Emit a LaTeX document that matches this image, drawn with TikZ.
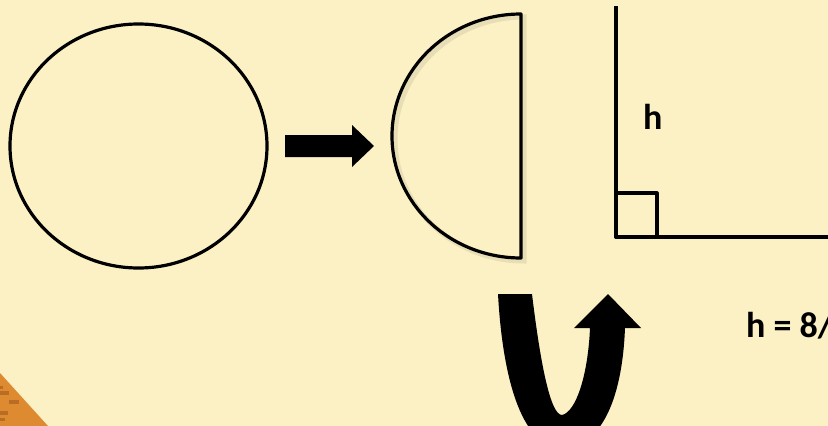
\documentclass[tikz,border=0pt]{standalone}
\usepackage{fontspec}
\setmainfont{Carlito}
\usepackage{tikz}
\usetikzlibrary{calc}
\definecolor{paper}{RGB}{252,241,197}
\definecolor{brick}{RGB}{222,138,48}
\definecolor{brickdark}{RGB}{184,108,36}

\begin{document}
\begin{tikzpicture}[x=1pt,y=-1pt,
  shape line/.style={line width=3.2pt, line join=round},
  big label/.style={font=\fontsize{36}{40}\selectfont\bfseries, inner sep=0pt, anchor=base west}]
% Page and background
\useasboundingbox (0,0) rectangle (828,426);
\clip (0,0) rectangle (828,426);
\fill[paper] (0,0) rectangle (828,426);

% Corner ornament
\fill[brick] (0,373) -- (48,426) -- (0,426) -- cycle;
\foreach \xa/\ya/\xb/\yb in {0/386/3/389, 0/391/9/395, 9/400/19/404, 0/411/8/415, 0/418/5/421}
  \fill[brickdark] (\xa,\ya) rectangle (\xb,\yb);

% Whole circle
\draw[shape line] (138.5,146) ellipse [x radius=128.5, y radius=122];

% Block arrow
\fill (285,135) -- (352,135) -- (352,125) -- (374,146) -- (352,167) -- (352,157) -- (285,157) -- cycle;

% Half circle (with soft shadow)
\draw[line width=5pt, black, opacity=0.08] (524,17) -- (524,261) arc[start angle=90, end angle=270, x radius=129, y radius=122] -- cycle;
\draw[shape line] (521,14) -- (521,258) arc[start angle=90, end angle=270, x radius=129, y radius=122] -- cycle;

% Right angle
\draw[shape line] (616,6) -- (616,237) -- (830,237);
\draw[shape line] (616,193) rectangle (657,237);
\node[big label] (hlabel) at (643,129) {h};

% Formula
\node[big label] (formula) at (746,337) {h = 8/};

% U-turn arrow
\fill (498,294) -- (532,294)
  .. controls (540,360) and (550,415) .. (562,415)
  .. controls (576,412) and (588,375) .. (590,328)
  -- (574,328) -- (608,294) -- (641,328) -- (625,328)
  .. controls (622,405) and (598,448) .. (562,448)
  .. controls (524,448) and (503,385) .. (498,294) -- cycle;
\end{tikzpicture}
\end{document}
